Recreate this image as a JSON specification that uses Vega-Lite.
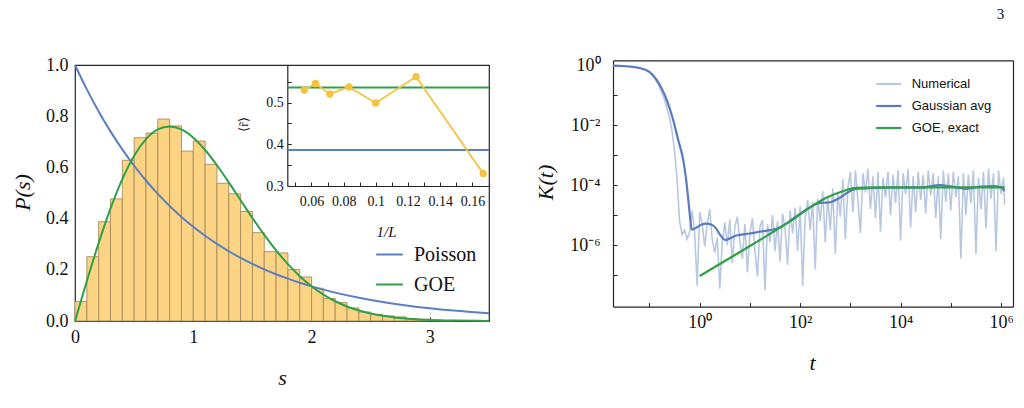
{
  "$schema": "https://vega.github.io/schema/vega-lite/v6.json",
  "background": "white",
  "autosize": {"type": "pad"},
  "padding": {"left": 10, "top": 7, "right": 5, "bottom": 10},
  "config": {
    "font": "Liberation Serif",
    "view": {"stroke": "#262626", "strokeWidth": 1.2},
    "axis": {
      "grid": false,
      "domainColor": "#262626",
      "domainWidth": 1.2,
      "tickColor": "#262626",
      "tickWidth": 1,
      "labelColor": "#111111",
      "titleColor": "#111111",
      "labelFont": "Liberation Serif",
      "titleFont": "Liberation Serif",
      "titleFontWeight": "normal",
      "labelOverlap": false,
      "labelFlush": false
    },
    "legend": {"labelColor": "#111111"}
  },
  "datasets": {
    "spacing_hist": [
      {"bin_start": 0.0, "bin_end": 0.1, "density": 0.076},
      {"bin_start": 0.1, "bin_end": 0.2, "density": 0.251},
      {"bin_start": 0.2, "bin_end": 0.3, "density": 0.388},
      {"bin_start": 0.3, "bin_end": 0.4, "density": 0.477},
      {"bin_start": 0.4, "bin_end": 0.5, "density": 0.628},
      {"bin_start": 0.5, "bin_end": 0.6, "density": 0.716},
      {"bin_start": 0.6, "bin_end": 0.7, "density": 0.734},
      {"bin_start": 0.7, "bin_end": 0.8, "density": 0.789},
      {"bin_start": 0.8, "bin_end": 0.9, "density": 0.762},
      {"bin_start": 0.9, "bin_end": 1.0, "density": 0.664},
      {"bin_start": 1.0, "bin_end": 1.1, "density": 0.703},
      {"bin_start": 1.1, "bin_end": 1.2, "density": 0.612},
      {"bin_start": 1.2, "bin_end": 1.3, "density": 0.538},
      {"bin_start": 1.3, "bin_end": 1.4, "density": 0.497},
      {"bin_start": 1.4, "bin_end": 1.5, "density": 0.428},
      {"bin_start": 1.5, "bin_end": 1.6, "density": 0.345},
      {"bin_start": 1.6, "bin_end": 1.7, "density": 0.271},
      {"bin_start": 1.7, "bin_end": 1.8, "density": 0.266},
      {"bin_start": 1.8, "bin_end": 1.9, "density": 0.201},
      {"bin_start": 1.9, "bin_end": 2.0, "density": 0.172},
      {"bin_start": 2.0, "bin_end": 2.1, "density": 0.128},
      {"bin_start": 2.1, "bin_end": 2.2, "density": 0.088},
      {"bin_start": 2.2, "bin_end": 2.3, "density": 0.072},
      {"bin_start": 2.3, "bin_end": 2.4, "density": 0.051},
      {"bin_start": 2.4, "bin_end": 2.5, "density": 0.035},
      {"bin_start": 2.5, "bin_end": 2.6, "density": 0.026},
      {"bin_start": 2.6, "bin_end": 2.7, "density": 0.02},
      {"bin_start": 2.7, "bin_end": 2.8, "density": 0.016},
      {"bin_start": 2.8, "bin_end": 2.9, "density": 0.009},
      {"bin_start": 2.9, "bin_end": 3.0, "density": 0.007},
      {"bin_start": 3.0, "bin_end": 3.1, "density": 0.004},
      {"bin_start": 3.1, "bin_end": 3.2, "density": 0.002}
    ],
    "spacing_models": [
      {"model": "Poisson", "s": 0.0, "P": 1.0},
      {"model": "Poisson", "s": 0.1, "P": 0.9048},
      {"model": "Poisson", "s": 0.2, "P": 0.8187},
      {"model": "Poisson", "s": 0.3, "P": 0.7408},
      {"model": "Poisson", "s": 0.4, "P": 0.6703},
      {"model": "Poisson", "s": 0.5, "P": 0.6065},
      {"model": "Poisson", "s": 0.6, "P": 0.5488},
      {"model": "Poisson", "s": 0.7, "P": 0.4966},
      {"model": "Poisson", "s": 0.8, "P": 0.4493},
      {"model": "Poisson", "s": 0.9, "P": 0.4066},
      {"model": "Poisson", "s": 1.0, "P": 0.3679},
      {"model": "Poisson", "s": 1.1, "P": 0.3329},
      {"model": "Poisson", "s": 1.2, "P": 0.3012},
      {"model": "Poisson", "s": 1.3, "P": 0.2725},
      {"model": "Poisson", "s": 1.4, "P": 0.2466},
      {"model": "Poisson", "s": 1.5, "P": 0.2231},
      {"model": "Poisson", "s": 1.6, "P": 0.2019},
      {"model": "Poisson", "s": 1.7, "P": 0.1827},
      {"model": "Poisson", "s": 1.8, "P": 0.1653},
      {"model": "Poisson", "s": 1.9, "P": 0.1496},
      {"model": "Poisson", "s": 2.0, "P": 0.1353},
      {"model": "Poisson", "s": 2.2, "P": 0.1108},
      {"model": "Poisson", "s": 2.4, "P": 0.0907},
      {"model": "Poisson", "s": 2.6, "P": 0.0743},
      {"model": "Poisson", "s": 2.8, "P": 0.0608},
      {"model": "Poisson", "s": 3.0, "P": 0.0498},
      {"model": "Poisson", "s": 3.2, "P": 0.0408},
      {"model": "Poisson", "s": 3.5, "P": 0.0302},
      {"model": "GOE", "s": 0.0, "P": 0.0},
      {"model": "GOE", "s": 0.1, "P": 0.1559},
      {"model": "GOE", "s": 0.2, "P": 0.3044},
      {"model": "GOE", "s": 0.3, "P": 0.4391},
      {"model": "GOE", "s": 0.4, "P": 0.5541},
      {"model": "GOE", "s": 0.5, "P": 0.6454},
      {"model": "GOE", "s": 0.6, "P": 0.7103},
      {"model": "GOE", "s": 0.7, "P": 0.7483},
      {"model": "GOE", "s": 0.8, "P": 0.7602},
      {"model": "GOE", "s": 0.9, "P": 0.7483},
      {"model": "GOE", "s": 1.0, "P": 0.7162},
      {"model": "GOE", "s": 1.1, "P": 0.668},
      {"model": "GOE", "s": 1.2, "P": 0.6083},
      {"model": "GOE", "s": 1.3, "P": 0.5415},
      {"model": "GOE", "s": 1.4, "P": 0.4717},
      {"model": "GOE", "s": 1.5, "P": 0.4025},
      {"model": "GOE", "s": 1.6, "P": 0.3365},
      {"model": "GOE", "s": 1.7, "P": 0.276},
      {"model": "GOE", "s": 1.8, "P": 0.222},
      {"model": "GOE", "s": 1.9, "P": 0.1752},
      {"model": "GOE", "s": 2.0, "P": 0.1358},
      {"model": "GOE", "s": 2.1, "P": 0.1033},
      {"model": "GOE", "s": 2.2, "P": 0.0772},
      {"model": "GOE", "s": 2.3, "P": 0.0567},
      {"model": "GOE", "s": 2.4, "P": 0.0409},
      {"model": "GOE", "s": 2.5, "P": 0.029},
      {"model": "GOE", "s": 2.6, "P": 0.0202},
      {"model": "GOE", "s": 2.7, "P": 0.0138},
      {"model": "GOE", "s": 2.8, "P": 0.0093},
      {"model": "GOE", "s": 2.9, "P": 0.0062},
      {"model": "GOE", "s": 3.0, "P": 0.004},
      {"model": "GOE", "s": 3.2, "P": 0.0016},
      {"model": "GOE", "s": 3.5, "P": 0.0004}
    ],
    "ratio_reference": [
      {"model": "GOE", "r": 0.5359},
      {"model": "Poisson", "r": 0.3863}
    ],
    "ratio_by_size": [
      {"invL": 0.0556, "r": 0.530},
      {"invL": 0.0625, "r": 0.5456},
      {"invL": 0.0714, "r": 0.5206},
      {"invL": 0.0833, "r": 0.5374},
      {"invL": 0.1, "r": 0.499},
      {"invL": 0.125, "r": 0.562},
      {"invL": 0.1667, "r": 0.330}
    ],
    "sff_numerical": [
      {"series": "Numerical", "t": 0.0188, "K": 0.977},
      {"series": "Numerical", "t": 0.0316, "K": 0.933},
      {"series": "Numerical", "t": 0.0501, "K": 0.871},
      {"series": "Numerical", "t": 0.0794, "K": 0.741},
      {"series": "Numerical", "t": 0.1, "K": 0.589},
      {"series": "Numerical", "t": 0.126, "K": 0.38},
      {"series": "Numerical", "t": 0.158, "K": 0.191},
      {"series": "Numerical", "t": 0.2, "K": 0.0708},
      {"series": "Numerical", "t": 0.251, "K": 0.0178},
      {"series": "Numerical", "t": 0.282, "K": 0.00631},
      {"series": "Numerical", "t": 0.316, "K": 0.001413},
      {"series": "Numerical", "t": 0.355, "K": 1.585e-4},
      {"series": "Numerical", "t": 0.398, "K": 6.31e-6},
      {"series": "Numerical", "t": 0.447, "K": 2.239e-6},
      {"series": "Numerical", "t": 0.501, "K": 3.162e-6},
      {"series": "Numerical", "t": 0.562, "K": 1.585e-6},
      {"series": "Numerical", "t": 0.631, "K": 2.818e-6},
      {"series": "Numerical", "t": 0.708, "K": 1.413e-5},
      {"series": "Numerical", "t": 0.794, "K": 2.512e-6},
      {"series": "Numerical", "t": 0.891, "K": 4.467e-8},
      {"series": "Numerical", "t": 1, "K": 1.259e-5},
      {"series": "Numerical", "t": 1.122, "K": 5.012e-6},
      {"series": "Numerical", "t": 1.259, "K": 8.913e-7},
      {"series": "Numerical", "t": 1.413, "K": 5.012e-6},
      {"series": "Numerical", "t": 1.585, "K": 1.585e-5},
      {"series": "Numerical", "t": 1.778, "K": 1.585e-6},
      {"series": "Numerical", "t": 1.995, "K": 5.623e-7},
      {"series": "Numerical", "t": 2.239, "K": 1.778e-6},
      {"series": "Numerical", "t": 2.512, "K": 3.548e-8},
      {"series": "Numerical", "t": 2.818, "K": 1.259e-6},
      {"series": "Numerical", "t": 3.162, "K": 5.623e-6},
      {"series": "Numerical", "t": 3.548, "K": 1e-6},
      {"series": "Numerical", "t": 3.981, "K": 7.079e-6},
      {"series": "Numerical", "t": 4.467, "K": 2.512e-7},
      {"series": "Numerical", "t": 5.012, "K": 3.981e-6},
      {"series": "Numerical", "t": 5.623, "K": 8.913e-6},
      {"series": "Numerical", "t": 6.31, "K": 1.413e-6},
      {"series": "Numerical", "t": 7.079, "K": 3.548e-7},
      {"series": "Numerical", "t": 7.943, "K": 5.012e-6},
      {"series": "Numerical", "t": 8.913, "K": 1.259e-7},
      {"series": "Numerical", "t": 10, "K": 2.512e-6},
      {"series": "Numerical", "t": 11.22, "K": 7.943e-6},
      {"series": "Numerical", "t": 12.59, "K": 6.31e-7},
      {"series": "Numerical", "t": 14.13, "K": 8.913e-8},
      {"series": "Numerical", "t": 15.85, "K": 3.981e-6},
      {"series": "Numerical", "t": 17.78, "K": 7.079e-6},
      {"series": "Numerical", "t": 19.95, "K": 3.162e-8},
      {"series": "Numerical", "t": 22.39, "K": 5.012e-6},
      {"series": "Numerical", "t": 25.12, "K": 1.259e-6},
      {"series": "Numerical", "t": 28.18, "K": 1e-5},
      {"series": "Numerical", "t": 31.62, "K": 6.31e-7},
      {"series": "Numerical", "t": 35.48, "K": 6.31e-6},
      {"series": "Numerical", "t": 39.81, "K": 2.818e-7},
      {"series": "Numerical", "t": 44.67, "K": 1.122e-5},
      {"series": "Numerical", "t": 50.12, "K": 3.548e-6},
      {"series": "Numerical", "t": 56.23, "K": 2.239e-7},
      {"series": "Numerical", "t": 63.1, "K": 1.413e-5},
      {"series": "Numerical", "t": 70.79, "K": 2.512e-6},
      {"series": "Numerical", "t": 79.43, "K": 1.778e-5},
      {"series": "Numerical", "t": 89.13, "K": 6.31e-7},
      {"series": "Numerical", "t": 100, "K": 1.995e-5},
      {"series": "Numerical", "t": 112.2, "K": 4.467e-8},
      {"series": "Numerical", "t": 125.9, "K": 7.943e-6},
      {"series": "Numerical", "t": 141.3, "K": 3.162e-5},
      {"series": "Numerical", "t": 158.5, "K": 3.162e-6},
      {"series": "Numerical", "t": 177.8, "K": 2.818e-5},
      {"series": "Numerical", "t": 199.5, "K": 1.585e-7},
      {"series": "Numerical", "t": 223.9, "K": 3.548e-5},
      {"series": "Numerical", "t": 251.2, "K": 6.31e-6},
      {"series": "Numerical", "t": 281.8, "K": 6.31e-5},
      {"series": "Numerical", "t": 316.2, "K": 1.259e-6},
      {"series": "Numerical", "t": 354.8, "K": 4.467e-5},
      {"series": "Numerical", "t": 398.1, "K": 3.162e-6},
      {"series": "Numerical", "t": 446.7, "K": 7.943e-5},
      {"series": "Numerical", "t": 501.2, "K": 5.012e-7},
      {"series": "Numerical", "t": 562.3, "K": 5.012e-5},
      {"series": "Numerical", "t": 631, "K": 8.913e-6},
      {"series": "Numerical", "t": 707.9, "K": 1.585e-4},
      {"series": "Numerical", "t": 794.3, "K": 1.585e-6},
      {"series": "Numerical", "t": 891.3, "K": 7.943e-5},
      {"series": "Numerical", "t": 1000, "K": 2.818e-4},
      {"series": "Numerical", "t": 1122, "K": 1.259e-5},
      {"series": "Numerical", "t": 1259, "K": 3.162e-4},
      {"series": "Numerical", "t": 1413, "K": 3.162e-5},
      {"series": "Numerical", "t": 1585, "K": 2.512e-6},
      {"series": "Numerical", "t": 1778, "K": 2.512e-4},
      {"series": "Numerical", "t": 1995, "K": 5.623e-5},
      {"series": "Numerical", "t": 2239, "K": 3.548e-4},
      {"series": "Numerical", "t": 2512, "K": 1.585e-5},
      {"series": "Numerical", "t": 2818, "K": 1.995e-4},
      {"series": "Numerical", "t": 3162, "K": 7.943e-6},
      {"series": "Numerical", "t": 3548, "K": 2.818e-4},
      {"series": "Numerical", "t": 3981, "K": 2.818e-6},
      {"series": "Numerical", "t": 4467, "K": 1.778e-4},
      {"series": "Numerical", "t": 5012, "K": 3.981e-5},
      {"series": "Numerical", "t": 5623, "K": 2.818e-4},
      {"series": "Numerical", "t": 6310, "K": 1e-5},
      {"series": "Numerical", "t": 7079, "K": 2.239e-4},
      {"series": "Numerical", "t": 7943, "K": 2.512e-5},
      {"series": "Numerical", "t": 8913, "K": 3.162e-4},
      {"series": "Numerical", "t": 10000, "K": 1.413e-6},
      {"series": "Numerical", "t": 11220, "K": 2.512e-4},
      {"series": "Numerical", "t": 12590, "K": 5.012e-5},
      {"series": "Numerical", "t": 14130, "K": 3.548e-4},
      {"series": "Numerical", "t": 15850, "K": 3.981e-6},
      {"series": "Numerical", "t": 17780, "K": 1.995e-4},
      {"series": "Numerical", "t": 19950, "K": 1.259e-5},
      {"series": "Numerical", "t": 22390, "K": 2.818e-4},
      {"series": "Numerical", "t": 25120, "K": 3.162e-5},
      {"series": "Numerical", "t": 28180, "K": 2.239e-4},
      {"series": "Numerical", "t": 31620, "K": 1.122e-5},
      {"series": "Numerical", "t": 35480, "K": 3.162e-4},
      {"series": "Numerical", "t": 39810, "K": 4.467e-5},
      {"series": "Numerical", "t": 44670, "K": 2.512e-4},
      {"series": "Numerical", "t": 50120, "K": 7.943e-6},
      {"series": "Numerical", "t": 56230, "K": 1.995e-4},
      {"series": "Numerical", "t": 63100, "K": 1.585e-6},
      {"series": "Numerical", "t": 70790, "K": 3.162e-4},
      {"series": "Numerical", "t": 79430, "K": 2.818e-5},
      {"series": "Numerical", "t": 89130, "K": 2.512e-4},
      {"series": "Numerical", "t": 100000, "K": 1.413e-5},
      {"series": "Numerical", "t": 112200, "K": 2.818e-4},
      {"series": "Numerical", "t": 125900, "K": 3.981e-5},
      {"series": "Numerical", "t": 141300, "K": 1.995e-4},
      {"series": "Numerical", "t": 158500, "K": 3.548e-7},
      {"series": "Numerical", "t": 177800, "K": 2.512e-4},
      {"series": "Numerical", "t": 199500, "K": 1e-5},
      {"series": "Numerical", "t": 223900, "K": 2.239e-4},
      {"series": "Numerical", "t": 251200, "K": 2.512e-5},
      {"series": "Numerical", "t": 281800, "K": 3.162e-4},
      {"series": "Numerical", "t": 316200, "K": 5.012e-7},
      {"series": "Numerical", "t": 354800, "K": 1.778e-4},
      {"series": "Numerical", "t": 398100, "K": 1.585e-5},
      {"series": "Numerical", "t": 446700, "K": 2.818e-4},
      {"series": "Numerical", "t": 501200, "K": 3.548e-6},
      {"series": "Numerical", "t": 562300, "K": 3.548e-4},
      {"series": "Numerical", "t": 631000, "K": 3.548e-5},
      {"series": "Numerical", "t": 707900, "K": 2.512e-4},
      {"series": "Numerical", "t": 794300, "K": 6.31e-7},
      {"series": "Numerical", "t": 891300, "K": 3.162e-4},
      {"series": "Numerical", "t": 1000000, "K": 5.012e-5},
      {"series": "Numerical", "t": 1122000, "K": 1.778e-4},
      {"series": "Numerical", "t": 1175000, "K": 2.239e-5}
    ],
    "sff_gaussian": [
      {"series": "Gaussian avg", "t": 0.0188, "K": 0.977},
      {"series": "Gaussian avg", "t": 0.0398, "K": 0.912},
      {"series": "Gaussian avg", "t": 0.0631, "K": 0.813},
      {"series": "Gaussian avg", "t": 0.1, "K": 0.603},
      {"series": "Gaussian avg", "t": 0.138, "K": 0.331},
      {"series": "Gaussian avg", "t": 0.178, "K": 0.1585},
      {"series": "Gaussian avg", "t": 0.219, "K": 0.0724},
      {"series": "Gaussian avg", "t": 0.295, "K": 0.0155},
      {"series": "Gaussian avg", "t": 0.372, "K": 0.00331},
      {"series": "Gaussian avg", "t": 0.468, "K": 7.24e-4},
      {"series": "Gaussian avg", "t": 0.537, "K": 1.55e-4},
      {"series": "Gaussian avg", "t": 0.603, "K": 2.51e-5},
      {"series": "Gaussian avg", "t": 0.646, "K": 7.94e-6},
      {"series": "Gaussian avg", "t": 0.676, "K": 3.98e-6},
      {"series": "Gaussian avg", "t": 0.708, "K": 3.31e-6},
      {"series": "Gaussian avg", "t": 0.851, "K": 3.8e-6},
      {"series": "Gaussian avg", "t": 1.072, "K": 4.79e-6},
      {"series": "Gaussian avg", "t": 1.349, "K": 5.25e-6},
      {"series": "Gaussian avg", "t": 1.698, "K": 4.9e-6},
      {"series": "Gaussian avg", "t": 2.138, "K": 3.55e-6},
      {"series": "Gaussian avg", "t": 2.512, "K": 2.29e-6},
      {"series": "Gaussian avg", "t": 3.311, "K": 1.48e-6},
      {"series": "Gaussian avg", "t": 4.169, "K": 1.74e-6},
      {"series": "Gaussian avg", "t": 5.37, "K": 2.09e-6},
      {"series": "Gaussian avg", "t": 10, "K": 2.45e-6},
      {"series": "Gaussian avg", "t": 15.85, "K": 2.82e-6},
      {"series": "Gaussian avg", "t": 24.55, "K": 3.16e-6},
      {"series": "Gaussian avg", "t": 38.9, "K": 3.8e-6},
      {"series": "Gaussian avg", "t": 72.4, "K": 7.59e-6},
      {"series": "Gaussian avg", "t": 134.9, "K": 1.55e-5},
      {"series": "Gaussian avg", "t": 245.5, "K": 2.57e-5},
      {"series": "Gaussian avg", "t": 389, "K": 2.69e-5},
      {"series": "Gaussian avg", "t": 616.6, "K": 3.8e-5},
      {"series": "Gaussian avg", "t": 977, "K": 6.31e-5},
      {"series": "Gaussian avg", "t": 1318, "K": 7.59e-5},
      {"series": "Gaussian avg", "t": 2455, "K": 7.94e-5},
      {"series": "Gaussian avg", "t": 6026, "K": 8.32e-5},
      {"series": "Gaussian avg", "t": 10000, "K": 8.32e-5},
      {"series": "Gaussian avg", "t": 25120, "K": 8.32e-5},
      {"series": "Gaussian avg", "t": 60260, "K": 1.0e-4},
      {"series": "Gaussian avg", "t": 100000, "K": 9.12e-5},
      {"series": "Gaussian avg", "t": 199500, "K": 7.59e-5},
      {"series": "Gaussian avg", "t": 398100, "K": 8.91e-5},
      {"series": "Gaussian avg", "t": 707900, "K": 9.33e-5},
      {"series": "Gaussian avg", "t": 1000000, "K": 8.51e-5},
      {"series": "Gaussian avg", "t": 1175000, "K": 6.31e-5}
    ],
    "sff_goe": [
      {"series": "GOE, exact", "t": 1, "K": 9.33e-8},
      {"series": "GOE, exact", "t": 3.162, "K": 2.95e-7},
      {"series": "GOE, exact", "t": 10, "K": 9.33e-7},
      {"series": "GOE, exact", "t": 24.55, "K": 2.34e-6},
      {"series": "GOE, exact", "t": 38.9, "K": 3.8e-6},
      {"series": "GOE, exact", "t": 72.4, "K": 7.24e-6},
      {"series": "GOE, exact", "t": 154.9, "K": 1.78e-5},
      {"series": "GOE, exact", "t": 331.1, "K": 3.8e-5},
      {"series": "GOE, exact", "t": 707.9, "K": 6.31e-5},
      {"series": "GOE, exact", "t": 1318, "K": 8.13e-5},
      {"series": "GOE, exact", "t": 3162, "K": 8.41e-5},
      {"series": "GOE, exact", "t": 31620, "K": 8.51e-5},
      {"series": "GOE, exact", "t": 1175000, "K": 8.51e-5}
    ]
  },
  "hconcat": [
    {
      "width": 414,
      "height": 256,
      "layer": [
        {
          "data": {"name": "spacing_hist"},
          "mark": {"type": "rect", "fill": "#fdd384", "stroke": "#a88b5e", "strokeWidth": 0.9},
          "encoding": {
            "x": {
              "field": "bin_start", "type": "quantitative",
              "scale": {"domain": [0, 3.5], "nice": false, "zero": false},
              "axis": {
                "orient": "bottom", "values": [0, 1, 2, 3], "format": "d", "domain": false,
                "tickSize": -4, "labelPadding": 11, "labelFontSize": 18, "labelFont": "Liberation Serif",
                "title": "s", "titleFont": "Liberation Serif", "titleFontStyle": "italic", "titleFontSize": 22,
                "titleX": 207, "titleY": 56, "titleAlign": "center", "titleBaseline": "middle"
              }
            },
            "x2": {"field": "bin_end"},
            "y": {
              "field": "density", "type": "quantitative",
              "scale": {"domain": [0, 1], "nice": false},
              "axis": {
                "orient": "left", "values": [0, 0.2, 0.4, 0.6, 0.8, 1.0], "format": ".1f", "domain": false,
                "ticks": false, "labelPadding": 7, "labelFontSize": 18, "labelFont": "Liberation Serif",
                "title": "P(s)", "titleFont": "Liberation Serif", "titleFontStyle": "italic", "titleFontSize": 22,
                "titleX": -53, "titleY": 127, "titleAngle": 270, "titleAlign": "center", "titleBaseline": "middle"
              }
            },
            "y2": {"datum": 0}
          }
        },
        {
          "data": {"name": "spacing_models"},
          "mark": {"type": "line", "strokeWidth": 2, "interpolate": "monotone"},
          "encoding": {
            "x": {"field": "s", "type": "quantitative", "scale": {"domain": [0, 3.5], "nice": false, "zero": false}, "axis": null},
            "y": {"field": "P", "type": "quantitative", "scale": {"domain": [0, 1], "nice": false}, "axis": null},
            "color": {
              "field": "model", "type": "nominal",
              "scale": {"domain": ["Poisson", "GOE"], "range": ["#5b7fc0", "#2fa046"]},
              "legend": {
                "orient": "none", "legendX": 300, "legendY": 175, "title": null,
                "symbolType": "stroke", "symbolSize": 713, "symbolStrokeWidth": 2,
                "labelFont": "Liberation Serif", "labelFontSize": 20, "labelOffset": 10,
                "rowPadding": 5, "padding": 0
              }
            }
          }
        },
        {
          "data": {"name": "ratio_reference"},
          "mark": {"type": "rule", "strokeWidth": 2},
          "encoding": {
            "x": {
              "datum": 0.045, "type": "quantitative",
              "scale": {"domain": [0.045, 0.1703], "range": [212.3, 414], "nice": false, "zero": false},
              "axis": {
                "orient": "bottom", "offset": -135,
                "values": [0.05, 0.06, 0.07, 0.08, 0.09, 0.1, 0.11, 0.12, 0.13, 0.14, 0.15, 0.16, 0.17],
                "labelExpr": "indexof(['0.06','0.08','0.1','0.12','0.14','0.16'], format(datum.value, '.2~f')) >= 0 ? format(datum.value, '.2~f') : ''",
                "tickSize": -4, "labelPadding": 12, "labelFontSize": 14, "labelFont": "Liberation Serif",
                "title": "1/L", "titleFont": "Liberation Serif", "titleFontStyle": "italic", "titleFontSize": 15,
                "titleX": 311, "titleY": 45, "titleAlign": "center", "titleBaseline": "middle"
              }
            },
            "x2": {"datum": 0.1703},
            "y": {
              "field": "r", "type": "quantitative",
              "scale": {"domain": [0.3, 0.59], "range": [121, 0], "nice": false, "zero": false},
              "axis": {
                "orient": "left", "offset": -212.3,
                "values": [0.3, 0.35, 0.4, 0.45, 0.5, 0.55],
                "labelExpr": "abs(datum.value * 10 - round(datum.value * 10)) < 0.01 ? format(datum.value, '.1f') : ''",
                "tickSize": -4, "labelPadding": 8, "labelFontSize": 14, "labelFont": "Liberation Serif",
                "title": "⟨r̃⟩", "titleFont": "Liberation Serif", "titleFontSize": 13,
                "titleX": -44, "titleY": 59, "titleAngle": 270, "titleAlign": "center", "titleBaseline": "middle"
              }
            },
            "color": {
              "field": "model", "type": "nominal",
              "scale": {"domain": ["Poisson", "GOE"], "range": ["#5b7fc0", "#2fa046"]},
              "legend": null
            }
          }
        },
        {
          "data": {"name": "ratio_by_size"},
          "mark": {"type": "line", "color": "#f5c344", "strokeWidth": 1.8, "point": {"filled": true, "size": 55, "color": "#f5c344"}},
          "encoding": {
            "x": {"field": "invL", "type": "quantitative", "scale": {"domain": [0.045, 0.1703], "range": [212.3, 414], "nice": false, "zero": false}, "axis": null},
            "y": {"field": "r", "type": "quantitative", "scale": {"domain": [0.3, 0.59], "range": [121, 0], "nice": false, "zero": false}, "axis": null}
          }
        }
      ],
      "resolve": {"scale": {"x": "independent", "y": "independent"}}
    },
    {
      "width": 400,
      "height": 241.6,
      "view": {"stroke": null},
      "title": {
        "text": "3", "anchor": "end", "font": "Liberation Serif", "fontSize": 15,
        "fontWeight": "normal", "color": "#111111", "offset": 34, "dx": -9
      },
      "layer": [
        {
          "data": {"name": "sff_numerical"},
          "mark": {"type": "line", "strokeWidth": 1.6},
          "encoding": {
            "x": {
              "field": "t", "type": "quantitative",
              "scale": {"type": "log", "domain": [0.0188, 1730000], "nice": false},
              "axis": {
                "orient": "bottom",
                "values": [0.1, 1, 10, 100, 1000, 10000, 100000, 1000000],
                "labelExpr": "round(log(datum.value)/LN10) == 0 ? '10⁰' : round(log(datum.value)/LN10) == 2 ? '10²' : round(log(datum.value)/LN10) == 4 ? '10⁴' : round(log(datum.value)/LN10) == 6 ? '10⁶' : ''",
                "tickSize": -4, "labelPadding": 11, "labelFontSize": 18, "labelFont": "Liberation Serif",
                "title": "t", "titleFont": "Liberation Serif", "titleFontStyle": "italic", "titleFontSize": 22,
                "titleX": 199, "titleY": 56, "titleAlign": "center", "titleBaseline": "middle"
              }
            },
            "y": {
              "field": "K", "type": "quantitative",
              "scale": {"type": "log", "domain": [8.9e-9, 1.47], "range": [241.6, -4.7], "nice": false},
              "axis": {
                "orient": "left",
                "values": [1, 0.1, 0.01, 0.001, 0.0001, 0.00001, 0.000001, 0.0000001],
                "labelExpr": "round(log(datum.value)/LN10) == 0 ? '10⁰' : round(log(datum.value)/LN10) == -2 ? '10⁻²' : round(log(datum.value)/LN10) == -4 ? '10⁻⁴' : round(log(datum.value)/LN10) == -6 ? '10⁻⁶' : ''",
                "tickSize": -4, "labelPadding": 17, "labelFontSize": 18, "labelFont": "Liberation Serif",
                "title": "K(t)", "titleFont": "Liberation Serif", "titleFontStyle": "italic", "titleFontSize": 22,
                "titleX": -68, "titleY": 117, "titleAngle": 270, "titleAlign": "center", "titleBaseline": "middle"
              }
            },
            "color": {
              "field": "series", "type": "nominal",
              "scale": {"domain": ["Numerical", "Gaussian avg", "GOE, exact"], "range": ["#b9c8e1", "#5a7bbd", "#2fa046"]},
              "legend": {
                "orient": "none", "legendX": 261.7, "legendY": 5, "title": null,
                "symbolType": "stroke", "symbolSize": 625, "symbolStrokeWidth": 2.2,
                "labelFont": "Liberation Sans", "labelFontSize": 13, "labelOffset": 9,
                "rowPadding": 1, "padding": 0
              }
            }
          }
        },
        {
          "data": {"name": "sff_gaussian"},
          "mark": {"type": "line", "strokeWidth": 2.2, "interpolate": "monotone"},
          "encoding": {
            "x": {
              "field": "t", "type": "quantitative",
              "axis": {"orient": "top", "offset": 4.7, "labels": false, "ticks": false, "title": null, "domain": true}
            },
            "y": {
              "field": "K", "type": "quantitative",
              "axis": {"orient": "right", "labels": false, "ticks": false, "title": null, "domain": true}
            },
            "color": {"field": "series", "type": "nominal"}
          }
        },
        {
          "data": {"name": "sff_goe"},
          "mark": {"type": "line", "strokeWidth": 2.2, "interpolate": "monotone"},
          "encoding": {
            "x": {"field": "t", "type": "quantitative", "axis": null},
            "y": {"field": "K", "type": "quantitative", "axis": null},
            "color": {"field": "series", "type": "nominal"}
          }
        }
      ],
      "resolve": {"axis": {"x": "independent", "y": "independent"}}
    }
  ],
  "resolve": {"scale": {"color": "independent"}},
  "spacing": 124,
  "bounds": "flush"
}
